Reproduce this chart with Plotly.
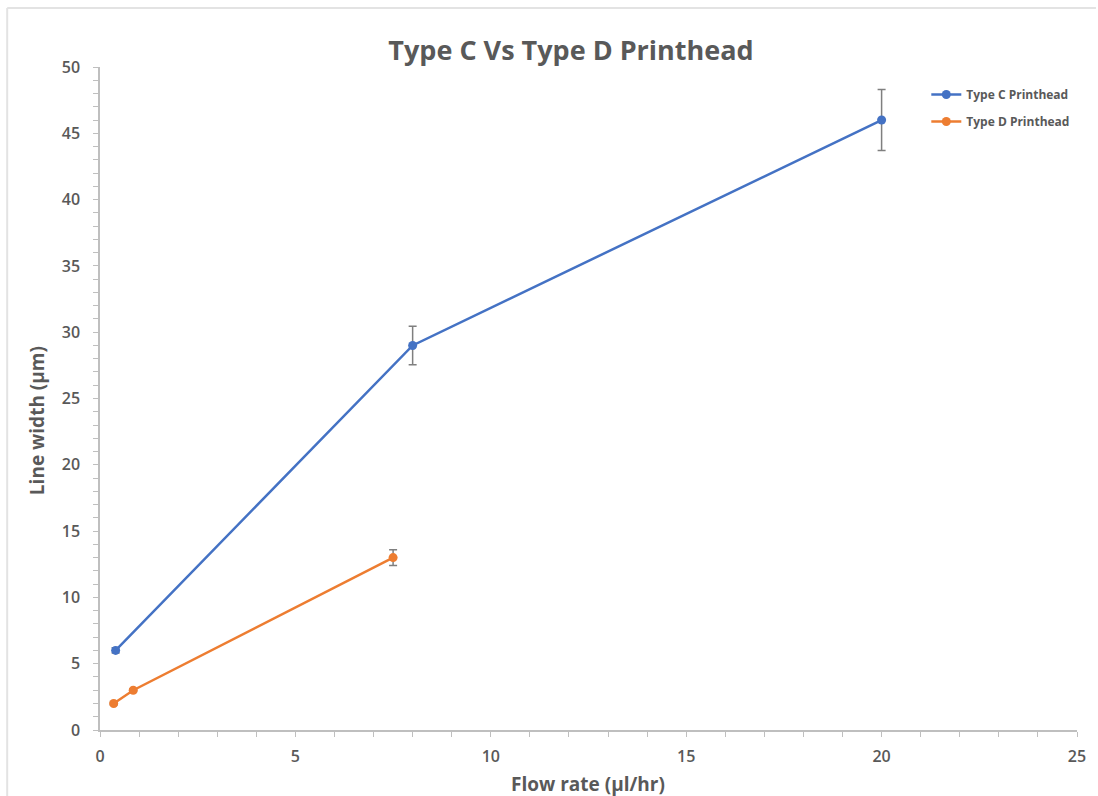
import plotly.graph_objects as go

# Data
c_x = [0.4, 8, 20]
c_y = [6, 29, 46]
c_err = [0.2, 1.45, 2.3]

d_x = [0.35, 0.85, 7.5]
d_y = [2, 3, 13]
d_err = [0.1, 0.1, 0.6]

title_text = "Type C Vs Type D Printhead"
x_title = "Flow rate (µl/hr)"
y_title = "Line width (µm)"

FONT = "Open Sans"
GRAY = "#595959"
AX = "#bfbfbf"

L, R, T, B = 100, 19, 67, 66
W, H = 1098, 796
pw, ph = W - L - R, H - T - B

def px(x):
    return (x - L) / pw

def py(y):
    return (H - B - y) / ph

fig = go.Figure()
fig.add_trace(go.Scatter(
    x=c_x, y=c_y, mode="lines+markers", name="Type C Printhead",
    line=dict(color="#4472c4", width=2.5), marker=dict(size=9, color="#4472c4"),
    error_y=dict(type="data", array=c_err, color="#7f7f7f", thickness=1.5, width=4),
    legendgroup="c",
))
fig.add_trace(go.Scatter(
    x=d_x, y=d_y, mode="lines+markers", name="Type D Printhead",
    line=dict(color="#ed7d31", width=2.5), marker=dict(size=9, color="#ed7d31"),
    error_y=dict(type="data", array=d_err, color="#7f7f7f", thickness=1.5, width=4),
    legendgroup="d",
))

fig.update_layout(
    width=W, height=H,
    margin=dict(l=L, r=R, t=T, b=B),
    paper_bgcolor="white", plot_bgcolor="white",
    font=dict(family=FONT, color=GRAY),
    title=dict(text=title_text, x=571 / W, xref="container", xanchor="center",
               y=1 - 51 / H, yref="container", yanchor="middle",
               font=dict(size=27, color=GRAY, family=FONT, weight="bold")),
    showlegend=True,
    legend=dict(x=px(928), y=py(80), xanchor="left", yanchor="top",
                font=dict(size=12, color=GRAY, family=FONT, weight="bold"),
                tracegroupgap=8, bgcolor="rgba(0,0,0,0)", itemwidth=30),
    xaxis=dict(range=[0, 25], tick0=0, dtick=5, showgrid=False, zeroline=False,
               showline=True, linecolor=AX, linewidth=1.5,
               ticks="outside", ticklen=5, tickcolor=AX, tickwidth=1,
               tickfont=dict(size=16, color=GRAY, weight=600), ticklabelstandoff=6,
               minor=dict(dtick=1, ticks="outside", ticklen=5, tickcolor=AX, showgrid=False),
               fixedrange=True),
    yaxis=dict(range=[0, 50], tick0=0, dtick=5, showgrid=False, zeroline=False,
               showline=True, linecolor=AX, linewidth=1.5,
               ticks="outside", ticklen=5, tickcolor=AX, tickwidth=1,
               tickfont=dict(size=16, color=GRAY, weight=600), ticklabelstandoff=10,
               minor=dict(dtick=1, ticks="outside", ticklen=5, tickcolor=AX, showgrid=False),
               fixedrange=True),
)

fig.add_annotation(text=x_title, xref="paper", yref="paper", x=px(589), y=py(784),
                   showarrow=False, xanchor="center", yanchor="middle",
                   font=dict(size=19, color=GRAY, family=FONT, weight="bold"))
fig.add_annotation(text=y_title, xref="paper", yref="paper", x=px(37), y=py(421),
                   showarrow=False, xanchor="center", yanchor="middle", textangle=-90,
                   font=dict(size=19, color=GRAY, family=FONT, weight="bold"))

# chart border (top and left visible edges)
fig.add_shape(type="line", xref="paper", yref="paper", x0=px(7), x1=px(W), y0=py(8), y1=py(8),
              line=dict(color="#e3e3e3", width=2))
fig.add_shape(type="line", xref="paper", yref="paper", x0=px(7), x1=px(7), y0=py(8), y1=py(H),
              line=dict(color="#e3e3e3", width=2))

fig.write_html("out.html")
